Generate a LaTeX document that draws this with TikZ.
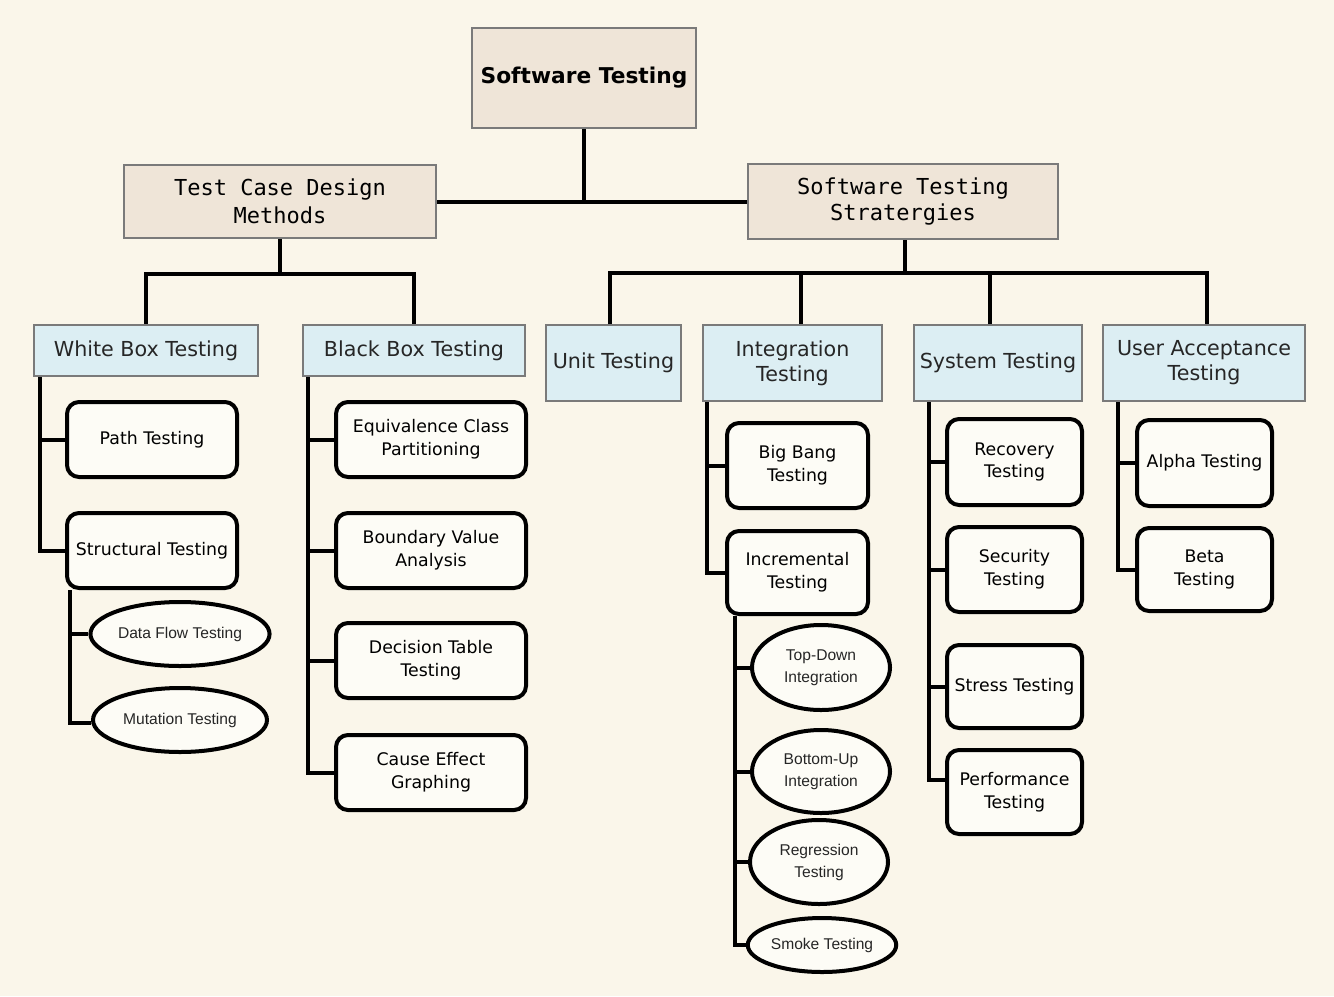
\documentclass[tikz,border=0pt]{standalone}
\usepackage{fontspec}
\setmainfont{DejaVu Sans}
\newfontfamily\monof{DejaVu Sans Mono}
\newfontfamily\arialf{Liberation Sans}
\usetikzlibrary{shapes.geometric}
\definecolor{bgc}{HTML}{FAF6EA}
\definecolor{beige}{HTML}{EFE5D8}
\definecolor{lblue}{HTML}{DCEEF3}
\definecolor{edgegray}{HTML}{7A7A7A}
\definecolor{rfill}{HTML}{FDFCF6}
\tikzset{
  topbox/.style={draw=edgegray, line width=1.5pt, fill=beige, align=center, inner sep=2pt},
  bluebox/.style={draw=edgegray, line width=1.5pt, fill=lblue, align=center, inner sep=2pt,
    font=\fontsize{15.5pt}{18.75pt}\selectfont, text=black!85},
  rbox/.style={draw=black, line width=3pt, fill=rfill, rounded corners=9pt, align=center, inner sep=2pt,
    font=\fontsize{13pt}{17pt}\selectfont},
  ebox/.style={draw=black, line width=3pt, fill=rfill, ellipse, align=center, inner sep=1pt,
    font=\arialf\fontsize{11.7pt}{16.5pt}\selectfont, text=black!85},
  conn/.style={draw=black, line width=3pt},
}
\begin{document}
\begin{tikzpicture}[x=0.75pt,y=-0.75pt]
\fill[bgc] (0,0) rectangle (1334,996);
\useasboundingbox (0,0) rectangle (1334,996);

% level 0
\node[topbox, minimum width=168pt, minimum height=75pt, font=\bfseries\fontsize{16.3pt}{19pt}\selectfont] (root) at (584,78) {Software Testing};
% level 1
\node[topbox, minimum width=234pt, minimum height=54.75pt, font=\monof\fontsize{16.5pt}{21pt}\selectfont] (tcdm) at (280,201.5) {Test Case Design\\Methods};
\node[topbox, minimum width=232.5pt, minimum height=56.25pt, font=\monof\fontsize{16.5pt}{19.5pt}\selectfont] (sst) at (903,201.5) {Software Testing\\Stratergies};
% level 2
\node[bluebox, minimum width=168pt, minimum height=38.25pt] (wb) at (146,350.5) {White Box Testing};
\node[bluebox, minimum width=166.5pt, minimum height=38.25pt] (bb) at (414,350.5) {Black Box Testing};
\node[bluebox, minimum width=101.25pt, minimum height=57pt] (unit) at (613.5,363) {Unit Testing};
\node[bluebox, minimum width=134.25pt, minimum height=57pt] (integ) at (792.5,363) {Integration\\Testing};
\node[bluebox, minimum width=126pt, minimum height=57pt] (sys) at (998,363) {System Testing};
\node[bluebox, minimum width=151.5pt, minimum height=57pt] (uat) at (1204,363) {User Acceptance\\Testing};

% white box children
\node[rbox, minimum width=127.5pt, minimum height=56.25pt] (path) at (152,439.5) {Path Testing};
\node[rbox, minimum width=127.5pt, minimum height=56.25pt] (struct) at (152,550.5) {Structural Testing};
\node[ebox, minimum width=130.5pt, minimum height=48pt] (dflow) at (180,634) {Data Flow Testing};
\node[ebox, minimum width=130.5pt, minimum height=48pt] (mut) at (180,720) {Mutation Testing};

% black box children
\node[rbox, minimum width=142.5pt, minimum height=56.25pt] (equiv) at (431,439.5) {Equivalence Class\\Partitioning};
\node[rbox, minimum width=142.5pt, minimum height=56.25pt] (bva) at (431,550.5) {Boundary Value\\Analysis};
\node[rbox, minimum width=142.5pt, minimum height=56.25pt] (dec) at (431,660.5) {Decision Table\\Testing};
\node[rbox, minimum width=142.5pt, minimum height=56.25pt] (cause) at (431,772.5) {Cause Effect\\Graphing};

% integration children
\node[rbox, minimum width=105.75pt, minimum height=63.75pt] (bigbang) at (797.5,465.5) {Big Bang\\Testing};
\node[rbox, minimum width=105.75pt, minimum height=62.25pt] (incr) at (797.5,572.5) {Incremental\\Testing};
\node[ebox, minimum width=103.5pt, minimum height=63.75pt] (topdown) at (821,667.5) {Top-Down\\Integration};
\node[ebox, minimum width=103.5pt, minimum height=62.25pt] (bottomup) at (821,771.5) {Bottom-Up\\Integration};
\node[ebox, minimum width=103.5pt, minimum height=63pt] (regr) at (819,862) {Regression\\Testing};
\node[ebox, minimum width=105pt, minimum height=40.5pt] (smoke) at (822,945) {Smoke Testing};

% system children
\node[rbox, minimum width=101.25pt, minimum height=64.5pt] (recov) at (1014.5,462) {Recovery\\Testing};
\node[rbox, minimum width=101.25pt, minimum height=63.75pt] (secur) at (1014.5,569.5) {Security\\Testing};
\node[rbox, minimum width=101.25pt, minimum height=62.25pt] (stress) at (1014.5,686.5) {Stress Testing};
\node[rbox, minimum width=101.25pt, minimum height=63pt] (perf) at (1014.5,792) {Performance\\Testing};

% uat children
\node[rbox, minimum width=101.25pt, minimum height=64.5pt] (alpha) at (1204.5,463) {Alpha Testing};
\node[rbox, minimum width=101.25pt, minimum height=62.25pt] (beta) at (1204.5,569.5) {Beta\\Testing};

% connector anchor points
\coordinate (sstb) at ([xshift=1.5pt]sst.south);
\coordinate (unitt) at ([xshift=-2.6pt]unit.north);
\coordinate (integt) at ([xshift=6.4pt]integ.north);
\coordinate (syst) at ([xshift=-6pt]sys.north);
\coordinate (uatop) at ([xshift=2.25pt]uat.north);

% connectors: top levels
\draw[conn] (tcdm.east) -- (sst.west);
\draw[conn] (root.south) -- (root.south |- tcdm.east);
\draw[conn] (tcdm.south) -- ++(0,35) coordinate (tbar);
\draw[conn] (wb.north) |- (tbar) -| (bb.north);
\draw[conn] (sstb) -- ++(0,33) coordinate (sbar);
\draw[conn] (unitt) |- (sbar) -| (uatop);
\draw[conn] (sbar -| integt) -- (integt);
\draw[conn] (sbar -| syst) -- (syst);

% white box trunk
\coordinate (wbt) at ([xshift=5.25pt]wb.south west);
\draw[conn] (wbt) |- (struct.west);
\draw[conn] (wbt |- path.west) -- (path.west);
\coordinate (stt) at ([xshift=3.75pt]struct.south west);
\coordinate (mutw) at ([yshift=-2pt]mut.west);
\draw[conn] (stt) |- (mutw);
\draw[conn] (stt |- dflow.west) -- (dflow.west);

% black box trunk
\coordinate (bbt) at ([xshift=4.5pt]bb.south west);
\draw[conn] (bbt) |- (cause.west);
\draw[conn] (bbt |- equiv.west) -- (equiv.west);
\draw[conn] (bbt |- bva.west) -- (bva.west);
\draw[conn] (bbt |- dec.west) -- (dec.west);

% integration trunk
\coordinate (itt) at ([xshift=3.75pt]integ.south west);
\draw[conn] (itt) |- (incr.west);
\draw[conn] (itt |- bigbang.west) -- (bigbang.west);
\coordinate (inct) at ([xshift=7.5pt]incr.south west);
\draw[conn] (inct) |- (smoke.west);
\draw[conn] (inct |- topdown.west) -- (topdown.west);
\draw[conn] (inct |- bottomup.west) -- (bottomup.west);
\draw[conn] (inct |- regr.west) -- (regr.west);

% system trunk
\coordinate (syt) at ([xshift=12pt]sys.south west);
\coordinate (perfw) at ([yshift=9pt]perf.west);
\draw[conn] (syt) |- (perfw);
\draw[conn] (syt |- recov.west) -- (recov.west);
\draw[conn] (syt |- secur.west) -- (secur.west);
\draw[conn] (syt |- stress.west) -- (stress.west);

% uat trunk
\coordinate (uatt) at ([xshift=12pt]uat.south west);
\draw[conn] (uatt) |- (beta.west);
\draw[conn] (uatt |- alpha.west) -- (alpha.west);
\end{tikzpicture}
\end{document}
